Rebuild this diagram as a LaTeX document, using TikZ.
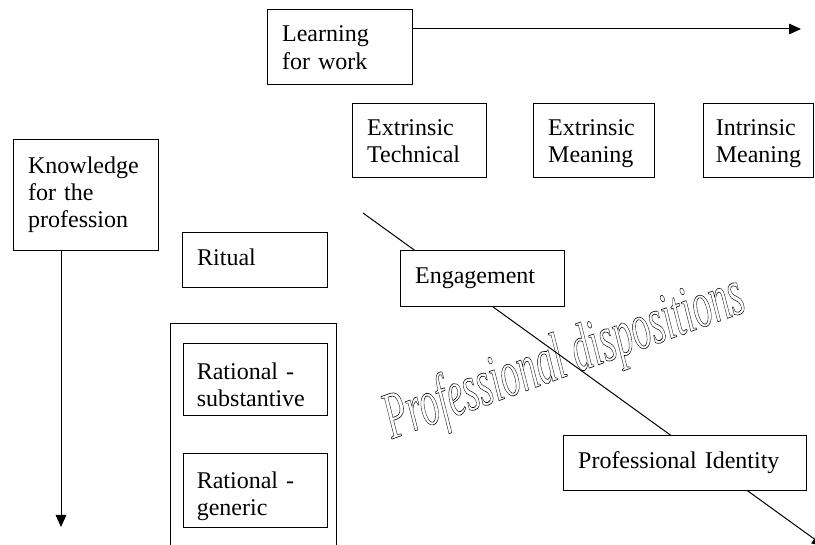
\documentclass[tikz,border=0pt]{standalone}
\usepackage{fontspec}
\setmainfont{Liberation Serif}
\usetikzlibrary{arrows.meta}
% hollow letters, as the reference's word art
\newcommand{\hollowtext}[1]{\special{pdf:literal direct 1 Tr 0.45 w}#1\special{pdf:literal direct 0 Tr}}

\begin{document}
\begin{tikzpicture}[
		x=0.75pt, y=-0.75pt,
		line width=0.75pt,
		font=\fontsize{18pt}{20.5pt}\selectfont,
		box/.style 2 args={draw, fill=white, anchor=north west, align=left,
				inner xsep=11pt, inner ysep=0pt, text width=#1, minimum height=#2,
				execute at begin node=\strut, execute at end node=\strut},
		down/.style={execute at begin node={\rule{0pt}{#1}}},
		arr/.style={-{Triangle[length=9pt,width=8pt]}}
	]
	\useasboundingbox (0,0) rectangle (815,545);
	\clip (0,0) rectangle (815,545);
	% the diagonal first, the boxes cover it
	\coordinate (dstart) at (363,213);
	\coordinate (dend) at (824,546);
	\draw[arr] (dstart) -- (dend);

	\node[box={86.75pt}{56.25pt}, down=18.85pt] (learn) at (267,9) {Learning\\for work};
	\node[box={78.5pt}{55.5pt}, down=18.85pt] (exttech) at (352,103) {Extrinsic\\Technical};
	\node[box={68.75pt}{55.5pt}, down=18.85pt] (extmean) at (533,103) {Extrinsic\\Meaning};
	\node[box={64pt}{55.5pt}, down=18.85pt, inner xsep=9.25pt] (intmean) at (703,103) {Intrinsic\\Meaning};
	\node[box={86.75pt}{83.25pt}] (know) at (13,139) {Knowledge\\for the\\profession};
	\node[box={86.75pt}{41.25pt}] (ritual) at (182,232) {Ritual};
	\node[box={102.5pt}{180pt}] (rational) at (170,323) {};
	\node[box={88pt}{54pt}, down=26.35pt, inner xsep=10pt] (ratsub) at (183,343) {Rational -\\substantive};
	\node[box={88pt}{55.5pt}, down=23.35pt, inner xsep=10pt] (ratgen) at (183,453) {Rational -\\generic};
	\node[box={101pt}{42pt}] (engage) at (400,250) {Engagement};
	\node[box={160.25pt}{41.25pt}] (identity) at (563,435) {Professional Identity};

	% the two axes
	\coordinate (workend) at (801,29);
	\coordinate (knowend) at (61,527);
	\draw[arr] (workend -| learn.east) -- (workend);
	\draw[arr] (knowend |- know.south) -- (knowend);

	\node[rotate=19.8, anchor=base, inner sep=0pt] (dispo) at (570,375)
		{\scalebox{0.565}[1]{\fontsize{50pt}{56pt}\selectfont\itshape
			\hollowtext{Professional dispositions}}};
\end{tikzpicture}
\end{document}
